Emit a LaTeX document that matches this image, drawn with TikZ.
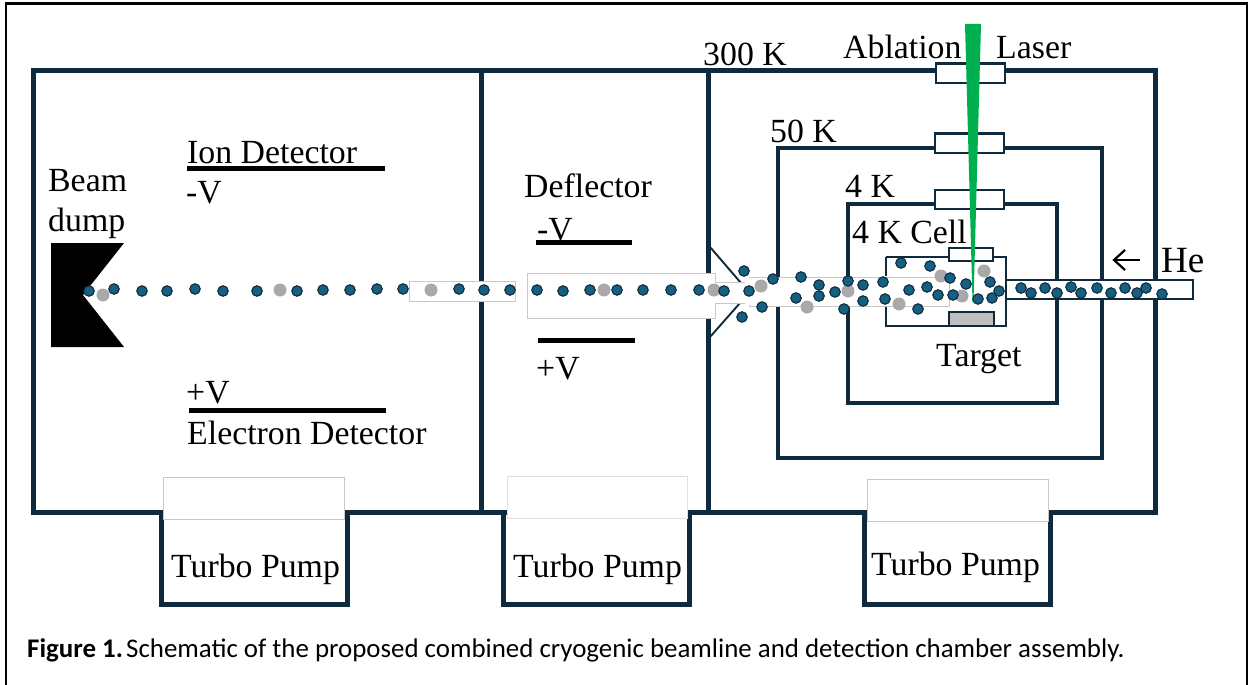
\documentclass[tikz,border=0pt]{standalone}
\usepackage{fontspec}
\setmainfont{Liberation Serif}
\newfontfamily\capfont{Carlito}
\definecolor{wall}{HTML}{0E2A3C}
\definecolor{dotblue}{HTML}{156082}
\definecolor{dotgray}{HTML}{A9A9A9}
\definecolor{lasergreen}{HTML}{00B050}
\definecolor{tubegray}{HTML}{C8C8C8}
\definecolor{targetgray}{HTML}{BFBFBF}
\tikzset{
  x=1pt,y=-1pt,
  thickwall/.style={draw=wall,line width=5pt,line join=miter},
  midwall/.style={draw=wall,line width=3.5pt},
  thinwall/.style={draw=wall,line width=2.2pt},
  plate/.style={fill=black,draw=none},
  tube/.style={fill=white,draw=tubegray,line width=1pt},
  winbox/.style={fill=white,draw=wall,line width=2.6pt},
  bluedot/.style={circle,fill=dotblue,draw=wall,line width=1.1pt,minimum size=10.5pt,inner sep=0pt},
  graydot/.style={circle,fill=dotgray,draw=none,minimum size=13pt,inner sep=0pt},
  lbl/.style={anchor=base west,inner sep=0pt,font=\fontsize{33.8}{36}\selectfont},
}
\begin{document}
\begin{tikzpicture}
\path[use as bounding box] (0,0) rectangle (1250,685);
\clip (0,0) rectangle (1250,685);
\fill[white] (0,0) rectangle (1250,685);
% page frame
\draw[black,line width=2.6pt] (6,690) -- (6,3.5) -- (1247,3.5) -- (1247,690);
% main chamber
\draw[thickwall] (33,71) rectangle (1155,512);
\draw[thickwall] (481,71) -- (481,512);
\draw[thickwall] (708,71) -- (708,512);
% pumps
\draw[thickwall] (161,512) -- (161,604) -- (347,604) -- (347,512);
\draw[thickwall] (503,512) -- (503,604) -- (689,604) -- (689,512);
\draw[thickwall] (864,512) -- (864,604) -- (1050,604) -- (1050,512);
\draw[fill=white,draw=tubegray,line width=1pt] (163,477) rectangle (344,519);
\draw[fill=white,draw=black!12,line width=1pt] (507,476) rectangle (687,518);
\draw[fill=white,draw=tubegray,line width=1pt] (867,479) rectangle (1048,521);
% cold shields
\draw[midwall] (778,148) rectangle (1102,458);
\draw[midwall] (848,204) rectangle (1057,403);
% skimmer
\draw[wall,line width=1.9pt] (710,247) -- (741,283);
\draw[wall,line width=1.9pt] (710,337) -- (740,303);
% beam tubes
\draw[tube] (409,281) rectangle (515,301);
\draw[tube] (749,277) rectangle (949,306);
\draw[tube] (527,273) -- (715,273) -- (715,282) -- (756,282) -- (756,303) -- (715,303) -- (715,318) -- (527,318) -- cycle;
\fill[white] (745,278) rectangle (760,305);
\draw[tubegray,line width=1pt] (749,277) -- (760,277);
\draw[tubegray,line width=1pt] (749,306) -- (760,306);
\draw[tubegray,line width=1pt] (715,282) -- (745,282);
\draw[tubegray,line width=1pt] (715,303) -- (745,303);
% cell
\draw[thinwall] (886,257) -- (1006,257) -- (1006,326) -- (886,326) -- (886,306.7);
\draw[thinwall] (886,257) -- (886,276.3);
\draw[fill=white,draw=wall,line width=1.8pt] (1006,280) rectangle (1193,299);
\draw[winbox] (949,248) rectangle (993,261);
\draw[fill=targetgray,draw=wall,line width=1.8pt] (949,312) rectangle (994,326);
% windows
\draw[winbox] (936,63.5) rectangle (1005,83);
\draw[winbox] (935,133.5) rectangle (1004,153);
\draw[winbox] (935,190) rectangle (1004,209);
% laser
\fill[lasergreen] (965,24) -- (981,24) -- (973.5,302) -- (972.5,302) -- cycle;
% plates
\fill[plate] (187,166) rectangle (385,171);
\fill[plate] (189,407.5) rectangle (386,412.5);
\fill[plate] (536,239.5) rectangle (632,244.5);
\fill[plate] (538,337.5) rectangle (635,342.5);
\fill[black] (51,243) -- (124,243) -- (83,295) -- (124,347) -- (51,347) -- cycle;
% particles
\foreach[count=\i] \px/\py in {431/290,604/290,714/290,103/295,280/290,761/286,807/307,848/291,899/304,941/276,962/296,984/271}
  \node[graydot] (g\i) at (\px,\py) {};
\foreach[count=\i] \px/\py in {89/291,114/289,142/291,167/291,195/289,223/291,257/291,297/291,323/290,350/290,377/289,403/289,
  459/289,484/290,510/290,537/290,563/291,590/290,617/290,643/290,671/290,699/290,724/291,749/291,744/271,742/317,762/307,773/279,
  801/277,796/298,819/285,819/296,835/292,848/281,844/309,863/285,863/301,883/282,885/299,918/309,909/290,927/287,938/295,953/295,
  950/278,966/284,978/299,992/298,999/291,990/282,901/263,930/266,
  1021/288,1031/293,1045/288,1057/293,1071/287,1081/293,1097/288,1111/293,1125/288,1137/293,1146/288,1162/294}
  \node[bluedot] (b\i) at (\px,\py) {};
% He arrow
\coordinate (hefrom) at (1140,260);
\coordinate (heto) at (1114,260);
\draw[black,line width=2.2pt] (hefrom) -- (heto);
\draw[black,line width=2.2pt] (1125,250) -- (heto) -- (1125,270);
% labels
\node[lbl] (t300) at (703,66) {300 K};
\node[lbl] (tabl) at (843,58.5) {Ablation};
\node[lbl] (tlas) at (996,58.5) {Laser};
\node[lbl] (t50) at (770,142) {50 K};
\node[lbl] (t4) at (845,197) {4 K};
\node[lbl] (t4c) at (852,243) {4 K Cell};
\node[lbl,font=\fontsize{37}{40}\selectfont] (the) at (1161,272) {He};
\node[lbl] (ttar) at (936,366) {Target};
\node[lbl] (tion) at (187,163) {Ion Detector};
\node[lbl] (tmv) at (186,203) {-V};
\node[lbl] (tbeam) at (48,191) {Beam};
\node[lbl] (tdump) at (48,231) {dump};
\node[lbl] (tdef) at (524,197) {Deflector};
\node[lbl] (tdmv) at (537,240) {-V};
\node[lbl] (tdpv) at (536,379) {+V};
\node[lbl] (tpv) at (186,403) {+V};
\node[lbl] (tele) at (187,444) {Electron Detector};
\node[lbl] (tp1) at (171,577) {Turbo Pump};
\node[lbl] (tp2) at (513,577) {Turbo Pump};
\node[lbl] (tp3) at (871,575) {Turbo Pump};
\node[anchor=base west,inner sep=0pt,font=\capfont\fontsize{26.9}{30}\selectfont] (cap) at (27,657) {\textbf{Figure 1.}\hspace{-5pt} Schematic of the proposed combined cryogenic beamline and detection chamber assembly.};
\end{tikzpicture}
\end{document}
